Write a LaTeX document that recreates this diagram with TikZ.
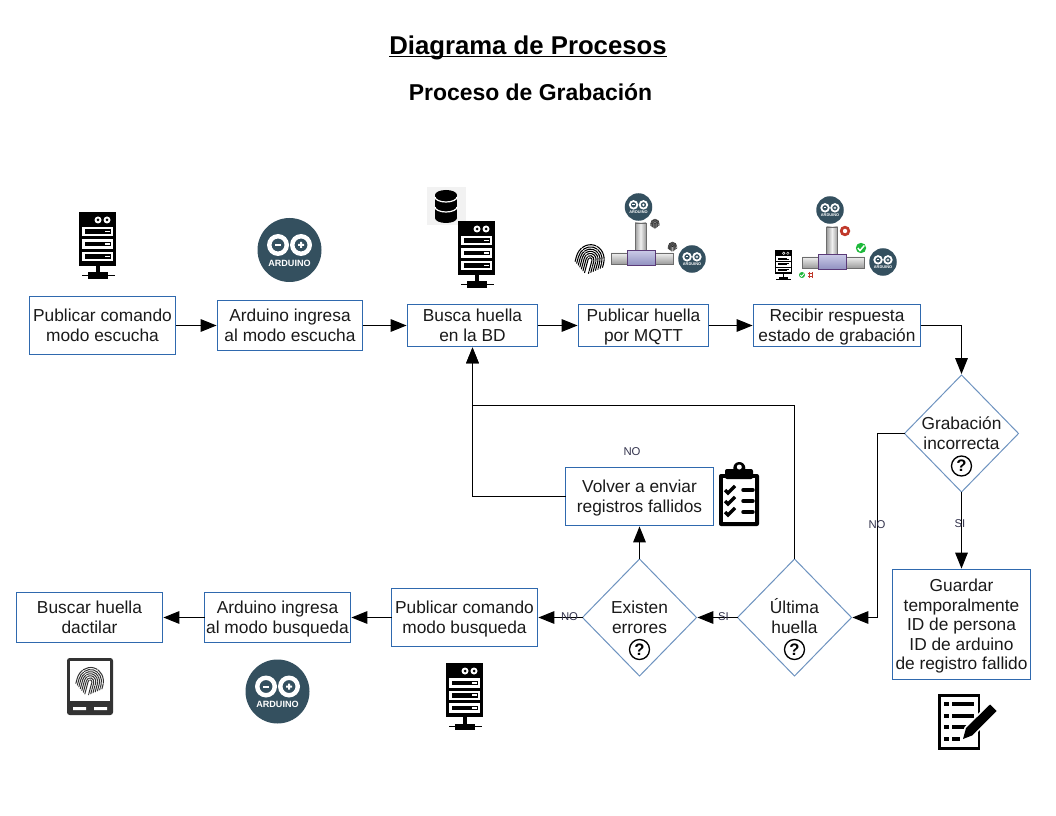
\documentclass[tikz,border=0pt]{standalone}
\usepackage{xcolor}
\usepackage{fontspec}
\setmainfont{Liberation Sans}
\usetikzlibrary{arrows.meta,shapes.geometric}
\definecolor{FlowBlue}{HTML}{2F69AE}
\definecolor{FlowDiamond}{HTML}{6E93C0}
\definecolor{FlowText}{HTML}{1A1A1A}
\definecolor{FlowNote}{HTML}{33334D}
\definecolor{LogoTeal}{HTML}{34505F}
\definecolor{TubeLight}{HTML}{F0F0F0}
\definecolor{TubeDark}{HTML}{9C9C9C}
\definecolor{TeeLight}{HTML}{C8C8E6}
\definecolor{TeeDark}{HTML}{8E8EBE}
\definecolor{TeeLine}{HTML}{5A3A78}
\definecolor{MarkGreen}{HTML}{1DB83A}
\definecolor{MarkRed}{HTML}{C0392B}
\definecolor{PadGrey}{HTML}{333333}
\tikzset{
  flowfont/.style={text=FlowText,font=\fontsize{13}{15}\selectfont,text depth=0pt},
  procbox/.style={flowfont,draw=FlowBlue,line width=.75pt,fill=white,inner sep=0pt,outer sep=0pt,align=center},
  decision/.style={diamond,draw=FlowDiamond,line width=.75pt,fill=white,inner sep=0pt,outer sep=0pt,
    minimum width=85.5pt,minimum height=87.75pt},
  decisiontext/.style={flowfont,align=center,inner sep=0pt},
  helpmark/.style={circle,draw=black,line width=1pt,fill=white,inner sep=0pt,minimum size=15pt,
    font=\fontsize{12.5}{12.5}\selectfont\bfseries},
  flowline/.style={draw=black,line width=.75pt,shorten >=.7pt,-{Triangle[length=12pt,width=9.5pt]}},
  flownote/.style={text=FlowNote,inner sep=0pt,font=\fontsize{8.5}{10}\selectfont},
  titletext/.style={anchor=base,inner sep=0pt,text=black},
  pics/server/.style={code={
    \fill[black] (-18.5,-27) rectangle (18.5,27);
    \fill[white] (0.5,-19) circle (3.5) (9.5,-19) circle (3.5);
    \fill[black] (0.5,-19) circle (1.5) (9.5,-19) circle (1.5);
    \foreach \rowy in {-12,0.5,13}{
      \fill[white] (-15.5,\rowy) rectangle (15.5,\rowy+9.5);
      \fill[black] (-13,\rowy+2.5) rectangle (13,\rowy+7);
      \fill[white] (7,\rowy+3.7) rectangle (12,\rowy+5.5);
    }
    \fill[black] (-2,27) rectangle (2,36);
    \fill[black] (-10,33.5) rectangle (10,40);
    \fill[black] (-16,36.2) rectangle (17,37.2);
  }},
  pics/arduino/.style={code={
    \fill[LogoTeal] (0,0) circle (32);
    \fill[white,even odd rule] (-11.5,-5) circle (11) (-11.5,-5) circle (6.5);
    \fill[white,even odd rule] (11.5,-5) circle (11) (11.5,-5) circle (6.5);
    \fill[white] (-14.5,-6) rectangle (-8.5,-4);
    \fill[white] (8.5,-6) rectangle (14.5,-4) (10.5,-8) rectangle (12.5,-2);
    \node[transform shape,text=white,inner sep=0pt,font=\fontsize{6.8}{7}\selectfont\bfseries] (-logotext) at (0,13) {ARDUINO};
  }},
  pics/pipetee/.style={code={
    \draw[TubeDark!70!black,line width=.4pt,top color=TubeLight,bottom color=TubeDark] (-30,-5.5) rectangle (32,5.5);
    \draw[TubeDark!70!black,line width=.4pt,left color=TubeDark,right color=TubeDark,middle color=TubeLight] (-6,-35.5) rectangle (5,-7);
    \draw[TeeLine,line width=.75pt,top color=TeeLight,bottom color=TeeDark] (-14,-7.5) rectangle (14,7.5);
  }},
  pics/fingerprint/.style={code={
    \foreach \r in {2,4,...,14}{
      \draw[line cap=round,dash pattern=on 11pt off .8pt] (-\r,15-\r*.7) -- (-\r,0) arc[start angle=180,end angle=360,x radius=\r,y radius=\r*1.1] -- (\r,15-\r*.8);
    }
  }}
}
\begin{document}
\begin{tikzpicture}[x=.75pt,y=-.75pt]
\path[use as bounding box] (0,0) rectangle (1056,816);
% titles
\node[titletext,font=\fontsize{19.3}{22}\selectfont\bfseries] (maintitle) at (528,54.5) {\underline{\smash{Diagrama de Procesos}}};
\node[titletext,font=\fontsize{17.2}{20}\selectfont\bfseries] (subtitle) at (530.5,101) {Proceso de Grabación};
% top row
\node[procbox,minimum width=109.5pt,minimum height=43.5pt] (pubescucha) at (102.5,325.5) {Publicar comando\\modo escucha};
\node[procbox,minimum width=108.75pt,minimum height=37.5pt] (ardescucha) at (290,325.5) {Arduino ingresa\\al modo escucha};
\node[procbox,minimum width=97.5pt,minimum height=31.5pt] (busca) at (472.5,325.5) {Busca huella\\en la BD};
\node[procbox,minimum width=97.5pt,minimum height=31.5pt] (pubhuella) at (643.5,325.5) {Publicar huella\\por MQTT};
\node[procbox,minimum width=125.25pt,minimum height=31.5pt] (recibir) at (837,325.5) {Recibir respuesta\\estado de grabación};
% right side
\node[decision,label={[decisiontext]center:{Grabación\\incorrecta}}] (grabacion) at (961.5,433.5) {};
\node[helpmark] (grabacionhelp) at (961.5,466) {?};
\node[procbox,minimum width=103.5pt,minimum height=82.5pt,font=\fontsize{13}{14.7}\selectfont] (guardar) at (961.5,624.5) {Guardar\\temporalmente\\ID de persona\\ID de arduino\\de registro fallido};
% bottom row
\node[decision,label={[decisiontext,text height=24.4pt]center:{Última\\huella}}] (ultima) at (794.5,617.5) {};
\node[helpmark] (ultimahelp) at (794.5,649.5) {?};
\node[decision,label={[decisiontext]center:{Existen\\errores}}] (existen) at (639.5,617.5) {};
\node[helpmark] (existenhelp) at (639.5,649.5) {?};
\node[procbox,minimum width=111pt,minimum height=43.5pt] (volver) at (639.5,496.5) {Volver a enviar\\registros fallidos};
\node[procbox,minimum width=109.5pt,minimum height=43.5pt] (pubbusqueda) at (464.5,617.5) {Publicar comando\\modo busqueda};
\node[procbox,minimum width=109.5pt,minimum height=37.5pt] (ardbusqueda) at (277.5,617.5) {Arduino ingresa\\al modo busqueda};
\node[procbox,minimum width=109.5pt,minimum height=37.5pt] (buscar) at (89.5,617.5) {Buscar huella\\dactilar};
% connectors
\coordinate (retorno) at (794.5,405.5);
\coordinate (bajada) at (877.5,433.5);
\draw[flowline] (pubescucha) -- (ardescucha);
\draw[flowline] (ardescucha) -- (busca);
\draw[flowline] (busca) -- (pubhuella);
\draw[flowline] (pubhuella) -- (recibir);
\draw[flowline] (recibir.east) -| (grabacion.north);
\draw[flowline] (grabacion.south) -- (guardar.north);
\draw[flowline] (grabacion.west) -- (bajada) |- (ultima.east);
\draw[flowline] (ultima.north) -- (retorno) -| (busca.south);
\draw[flowline] (volver.west) -| (busca.south);
\draw[flowline] (ultima.west) -- (existen.east);
\draw[flowline] (existen.north) -- (volver.south);
\draw[flowline] (existen.west) -- (pubbusqueda.east);
\draw[flowline] (pubbusqueda) -- (ardbusqueda);
\draw[flowline] (ardbusqueda) -- (buscar);
% connector labels
\node[flownote] (notevolver) at (632,452) {NO};
\node[flownote] (notegrabacion) at (877,524.5) {NO};
\node[flownote] (sigrabacion) at (960,523.5) {SI};
\node[flownote] (siultima) at (723.5,617) {SI};
\node[flownote] (noexisten) at (569.5,617) {NO};
% servers and arduinos
\pic (serverescucha) at (97.5,239) {server};
\pic (serverbusqueda) at (464.5,690) {server};
\pic (arduinoescucha) at (289.5,250) {arduino};
\pic (arduinobusqueda) at (277.5,691.5) {arduino};
% database over server
\fill[black!5] (427,187) rectangle (466,225);
\fill[black] (435,195) rectangle (457,218);
\fill[black] (446,195) ellipse (11 and 5) (446,218) ellipse (11 and 5);
\draw[white,line width=.9pt] (435,197) arc[start angle=180,end angle=0,x radius=11,y radius=5];
\draw[white,line width=.9pt] (435,207) arc[start angle=180,end angle=0,x radius=11,y radius=5];
\pic (serverbd) at (476.5,248) {server};
% mqtt publish icon
\pic (teehuella) at (641,258.5) {pipetee};
\pic[scale=.43] (arduinotop) at (638.5,207) {arduino};
\pic[scale=.43] (arduinoright) at (692,259) {arduino};
\pic[rotate=-15,line width=.8pt] (fingermain) at (590,260) {fingerprint};
\pic[scale=.32,line width=.3pt] (fingertop) at (655,224) {fingerprint};
\pic[scale=.32,line width=.3pt] (fingerright) at (672.5,247) {fingerprint};
% mqtt response icon
\pic (teerespuesta) at (832.5,262.5) {pipetee};
\pic[scale=.43] (arduinotopb) at (830,210) {arduino};
\pic[scale=.43] (arduinorightb) at (883,262) {arduino};
\pic[scale=.46] (serversmall) at (783.5,262) {server};
\draw[MarkRed,line width=2pt] (845,231) circle (3.8);
\fill[MarkGreen] (861,248) circle (5.2);
\draw[white,line width=1.1pt] (857.8,248) -- (860,250.6) -- (864.3,245.5);
\fill[MarkGreen] (802,275) circle (3);
\draw[white,line width=.6pt] (800.3,275) -- (801.6,276.5) -- (804,273.6);
\draw[MarkRed,line width=.7pt] (808,273.2) -- (813,273.2) (808,276.8) -- (813,276.8) (809,272) -- (809,278) (812,272) -- (812,278);
% clipboard
\fill[black,rounded corners=1.5pt] (719,474) rectangle (759,526);
\fill[white] (723,478) rectangle (755,522);
\fill[black] (739.3,468) circle (6);
\fill[black,rounded corners=1.5pt] (725,469) rectangle (753,479);
\fill[white] (739.3,467) circle (2.5);
\foreach \rowy in {490,501,512}{
  \draw[black,line width=2.4pt] (725,\rowy) -- (728,\rowy+3) -- (735,\rowy-4);
  \draw[black,line width=2.6pt,line cap=round] (743,\rowy) -- (753,\rowy);
}
% form with pencil
\fill[black] (938,694) rectangle (980,750);
\fill[white] (941,697) rectangle (977.5,747);
\foreach \rowy/\rowend in {704/974,716/974,727/967,739/960}{
  \fill[black] (944,\rowy-2) rectangle (949,\rowy+2);
  \fill[black] (951.5,\rowy-2) rectangle (\rowend,\rowy+2);
}
\draw[white,line width=2.5pt,fill=white] (963,739) -- (966,728) -- (990,704.5) -- (996.5,711) -- (972,735.5) -- cycle;
\fill[black] (963,739) -- (966,728) -- (990,704.5) -- (996.5,711) -- (972,735.5) -- cycle;
% fingerprint pad
\fill[PadGrey,rounded corners=2pt] (67,658) rectangle (113,715);
\fill[white] (70,661) rectangle (110,701);
\fill[white] (73,707) rectangle (86,710) (94,707) rectangle (107,710);
\pic[rotate=-15,scale=.95,color=PadGrey,line width=.75pt] (fingerpad) at (90,682) {fingerprint};
\end{tikzpicture}
\end{document}
